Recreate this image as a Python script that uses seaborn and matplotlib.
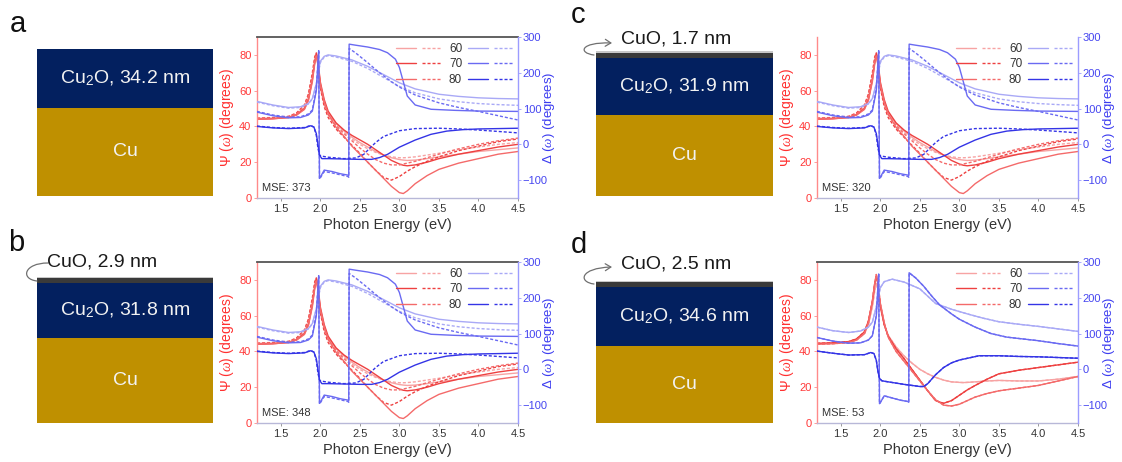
import numpy as np
import pandas as pd
import matplotlib
matplotlib.use("Agg")
import matplotlib.pyplot as plt
import seaborn as sns
from matplotlib.lines import Line2D
from matplotlib.legend_handler import HandlerTuple
from matplotlib.patches import Rectangle, FancyArrowPatch
from matplotlib.path import Path

sns.set_style("white")
plt.rcParams["font.family"] = ["Liberation Sans", "DejaVu Sans"]
plt.rcParams["mathtext.fontset"] = "custom"
plt.rcParams["mathtext.rm"] = "Liberation Sans"
plt.rcParams["mathtext.it"] = "Liberation Serif:italic"

# ---------------- data ----------------
ANGLES = [60, 70, 80]
PANELS = ["a", "b", "c", "d"]
MSE = [373, 348, 320, 53]
CU2O_LABELS = ["Cu$_2$O, 34.2 nm", "Cu$_2$O, 31.8 nm", "Cu$_2$O, 31.9 nm", "Cu$_2$O, 34.6 nm"]
CUO_LABELS = [None, "CuO, 2.9 nm", "CuO, 1.7 nm", "CuO, 2.5 nm"]
CU_LABEL = "Cu"

# Psi energy grid
E_PSI = [1.2, 1.4, 1.6, 1.7, 1.8, 1.85, 1.9, 1.93, 1.95, 1.97, 2.0, 2.05, 2.1, 2.2, 2.3,
         2.4, 2.5, 2.6, 2.7, 2.8, 2.9, 3.0, 3.05, 3.1, 3.2, 3.35, 3.5, 3.75, 4.0, 4.25, 4.5]

# sample 1 (panels a-c): experiment and model
PSI1_EXP_60 = [44.5, 44.7, 45.3, 46.8, 50.5, 56, 67, 76, 80, 75, 63, 53, 47.5, 41.5, 37.5,
               34, 31, 28.5, 26, 24, 22.5, 21.5, 21.2, 21, 21.2, 22, 23, 24.5, 26, 27, 28]
PSI1_MOD_60 = [44.8, 45, 45.8, 47.5, 52, 58, 69, 77, 79, 74, 62, 52.5, 47, 41, 37,
               33, 30, 27.5, 25.5, 24, 23, 22.5, 22.5, 22.6, 23, 24, 25, 27, 28.5, 30, 31]
PSI1_EXP_70 = [44, 44.3, 45, 46.5, 50, 55, 66, 76, 81, 77, 65, 55, 48.5, 42, 38,
               35, 32.5, 30, 27, 24, 21, 19, 18.3, 18, 18.5, 20, 22, 24.5, 26.5, 28.5, 30]
PSI1_MOD_70 = [44.5, 44.8, 45.5, 47.5, 52, 58, 70, 79, 81, 75, 62, 51, 45, 38.5, 34,
               29.5, 25, 20, 15.5, 11.5, 10, 12, 13.5, 15, 17.5, 20.5, 23, 26.5, 29, 31.5, 33]
PSI1_EXP_80 = [44, 44.3, 45, 46.3, 49.5, 54.5, 65, 75, 79.5, 76, 64, 54, 47, 39.5, 34.5,
               29, 24.5, 20, 15.5, 11, 6.5, 3, 2.5, 4, 8, 12.5, 16, 19.5, 22, 24.5, 26]
PSI1_MOD_80 = [44.3, 44.6, 45.5, 47, 51.5, 57, 68, 77, 80, 75, 63, 53, 46.5, 40.5, 36,
               32, 28, 24.5, 21.5, 19.5, 18.5, 18.5, 19, 19.5, 20.5, 22.5, 24.5, 27.5, 30, 32, 33.5]

E1_D60 = [1.2, 1.4, 1.6, 1.75, 1.85, 1.9, 1.95, 2.0, 2.05, 2.1, 2.2, 2.4, 2.6, 2.8, 3.0,
          3.2, 3.5, 3.75, 4.0, 4.25, 4.5]
DLT1_EXP_60 = [120, 110, 103, 105, 114, 128, 170, 232, 246, 250, 247, 236, 218, 195, 172,
               155, 140, 134, 130, 128, 127]
DLT1_MOD_60 = [118, 108, 101, 103, 113, 127, 168, 228, 244, 248, 244, 232, 212, 187, 162,
               144, 127, 119, 114, 111, 109]
E1_D70_EXP = [1.2, 1.4, 1.6, 1.75, 1.85, 1.9, 1.95, 1.97, 1.98, 1.99, 2.0, 2.05, 2.15, 2.25,
              2.35, 2.36, 2.365, 2.45, 2.6, 2.75, 2.85, 2.95, 3.0, 3.05, 3.1, 3.2, 3.4, 3.7, 4.0, 4.5]
DLT1_EXP_70 = [90, 80, 74, 75, 82, 93, 150, 225, 262, -95, -92, -72, -76, -82,
               -86, -88, 280, 277, 272, 265, 256, 238, 215, 175, 135, 110, 98, 95, 93, 92]
E1_D70_MOD = [1.2, 1.4, 1.6, 1.75, 1.85, 1.9, 1.95, 1.97, 1.98, 1.99, 2.0, 2.05, 2.15, 2.25,
              2.35, 2.36, 2.365, 2.45, 2.6, 2.75, 2.9, 3.0, 3.2, 3.5, 3.75, 4.0, 4.25, 4.5]
DLT1_MOD_70 = [92, 82, 76, 77, 85, 96, 155, 230, 258, -97, -94, -76, -80, -85,
               -90, -92, 268, 255, 228, 200, 175, 160, 138, 116, 103, 92, 80, 68]
E1_D80_EXP = [1.2, 1.4, 1.6, 1.8, 1.88, 1.92, 1.95, 1.97, 1.99, 2.02, 2.1, 2.3, 2.5, 2.65,
              2.75, 2.85, 3.0, 3.2, 3.4, 3.6, 3.8, 4.0, 4.25, 4.5]
DLT1_EXP_80 = [50, 46, 44, 46, 52, 48, 30, 0, -30, -40, -40, -41, -42, -42,
               -37, -28, -8, 12, 28, 37, 41, 43, 44, 45]
E1_D80_MOD = [1.2, 1.4, 1.6, 1.8, 1.88, 1.92, 1.95, 1.97, 1.99, 2.02, 2.1, 2.3, 2.45, 2.55,
              2.62, 2.7, 2.8, 3.0, 3.2, 3.5, 3.75, 4.0, 4.25, 4.5]
DLT1_MOD_80 = [51, 47, 45, 47, 53, 48, 25, -10, -30, -33, -36, -40, -38, -28,
               -12, 5, 22, 38, 44, 45, 43, 40, 36, 32]

# sample 2 (panel d): experiment (model overlaps)
PSI2_60 = [44.5, 44.6, 45.3, 46.8, 50, 55, 65, 74, 78, 75, 65, 55, 49, 42.5, 37.5,
           33.5, 30, 27.5, 25.5, 24, 23, 22.7, 22.6, 22.7, 23, 23.5, 23.8, 23.5, 23.5, 24.5, 26]
PSI2_70 = [44.5, 44.8, 45.5, 47, 51, 57, 68, 78, 82, 78, 66, 55, 48.5, 41.5, 36,
           30, 24, 18, 12.5, 11, 12.5, 15.5, 17, 18.5, 21, 24.5, 27.5, 29.5, 31, 32.5, 34]
PSI2_80 = [44, 44.3, 45, 46.3, 50, 56, 68, 78, 83, 79, 67, 56, 48, 40, 34.5,
           29, 23.5, 18, 13, 10, 9.5, 10.5, 11.5, 12.5, 14.5, 16.5, 18, 19.5, 21, 23.5, 26]
E2_D60 = [1.2, 1.4, 1.6, 1.75, 1.85, 1.9, 1.95, 2.0, 2.05, 2.15, 2.3, 2.5, 2.7, 2.9, 3.1,
          3.3, 3.5, 3.75, 4.0, 4.25, 4.5]
DLT2_60 = [118, 108, 103, 107, 118, 132, 175, 228, 245, 252, 244, 225, 184, 168, 155,
           143, 133, 126, 120, 113, 106]
E2_D70 = [1.2, 1.4, 1.6, 1.75, 1.85, 1.9, 1.95, 1.97, 1.98, 1.99, 2.0, 2.05, 2.15, 2.25,
          2.35, 2.36, 2.365, 2.45, 2.55, 2.65, 2.75, 2.9, 3.0, 3.2, 3.4, 3.6, 3.8, 4.0, 4.25, 4.5]
DLT2_70 = [89, 79, 73, 74, 82, 94, 150, 230, 266, -96, -93, -74, -80, -86,
           -90, -92, 270, 255, 232, 205, 180, 155, 140, 118, 100, 90, 85, 80, 72, 65]
E2_D80 = [1.2, 1.4, 1.6, 1.8, 1.88, 1.92, 1.95, 1.97, 1.99, 2.02, 2.1, 2.3, 2.5, 2.55,
          2.6, 2.7, 2.8, 2.9, 3.0, 3.25, 3.5, 3.75, 4.0, 4.5]
DLT2_80 = [51, 45, 40, 41, 47, 44, 25, -5, -25, -32, -35, -42, -48, -48,
           -40, -15, 5, 18, 26, 38, 38, 36, 35, 31]

PSI_TICKS = [0, 20, 40, 60, 80]
DLT_TICKS = [-100, 0, 100, 200, 300]
E_TICKS = [1.5, 2.0, 2.5, 3.0, 3.5, 4.0, 4.5]

# ---------------- styles ----------------
RED = {60: "#F7A3A3", 70: "#EE4040", 80: "#F46A6A"}
BLUE = {60: "#A9A9F6", 70: "#6A6AF2", 80: "#3434E6"}
DOT = (0, (2.2, 1.4))
NAVY = "#03205F"
GOLD = "#BF9000"

W, H = 1122, 462
fig = plt.figure(figsize=(W / 100, H / 100), dpi=100)


def fx(x):
    return x / W


def fy(y):
    return 1 - y / H


def rect_px(x0, y0, x1, y1):
    return [fx(x0), fy(y1), (x1 - x0) / W, (y1 - y0) / H]


sample1 = {
    "psi": {60: (PSI1_EXP_60, PSI1_MOD_60), 70: (PSI1_EXP_70, PSI1_MOD_70), 80: (PSI1_EXP_80, PSI1_MOD_80)},
    "dlt": {60: ((E1_D60, DLT1_EXP_60), (E1_D60, DLT1_MOD_60)),
            70: ((E1_D70_EXP, DLT1_EXP_70), (E1_D70_MOD, DLT1_MOD_70)),
            80: ((E1_D80_EXP, DLT1_EXP_80), (E1_D80_MOD, DLT1_MOD_80))},
}
sample2 = {
    "psi": {60: (PSI2_60, PSI2_60), 70: (PSI2_70, PSI2_70), 80: (PSI2_80, PSI2_80)},
    "dlt": {60: ((E2_D60, DLT2_60), (E2_D60, DLT2_60)),
            70: ((E2_D70, DLT2_70), (E2_D70, DLT2_70)),
            80: ((E2_D80, DLT2_80), (E2_D80, DLT2_80))},
}


def draw_plot(box, sample, mse, top_spine):
    ax = fig.add_axes(rect_px(*box))
    ax2 = ax.twinx()
    for ang in ANGLES:
        exp_y, mod_y = sample["psi"][ang]
        sns.lineplot(x=E_PSI, y=exp_y, ax=ax, color=RED[ang], lw=1.0, sort=False, estimator=None)
        sns.lineplot(x=E_PSI, y=mod_y, ax=ax, color=RED[ang], lw=1.0, linestyle=DOT, sort=False, estimator=None)
    for ang in ANGLES:
        (xe, ye), (xm, ym) = sample["dlt"][ang]
        sns.lineplot(x=xe, y=ye, ax=ax2, color=BLUE[ang], lw=1.0, sort=False, estimator=None)
        sns.lineplot(x=xm, y=ym, ax=ax2, color=BLUE[ang], lw=1.0, linestyle=DOT, sort=False, estimator=None)
    ax.set_xlim(1.2, 4.5)
    ax.set_ylim(0, 90)
    ax2.set_ylim(-150, 300)
    ax.set_xticks(E_TICKS)
    ax.set_xticklabels([f"{v:.1f}" for v in E_TICKS])
    ax.set_yticks(PSI_TICKS)
    ax2.set_yticks(DLT_TICKS)
    for s in ["top", "left", "bottom"]:
        ax2.spines[s].set_visible(False)
    ax.spines["right"].set_visible(False)
    ax.spines["left"].set_color("#FF8A8A")
    ax.spines["left"].set_linewidth(1.0)
    ax.spines["bottom"].set_color("#B8B8D8")
    ax.spines["bottom"].set_linewidth(1.0)
    ax2.spines["right"].set_color("#9C9CFF")
    ax2.spines["right"].set_linewidth(1.0)
    if top_spine:
        ax.spines["top"].set_color("#555555")
        ax.spines["top"].set_linewidth(1.3)
    else:
        ax.spines["top"].set_visible(False)
    ax.tick_params(axis="y", colors="#FF8A8A", labelcolor="#FF3838", labelsize=8,
                   length=2, width=0.6, pad=2, left=True)
    ax.tick_params(axis="x", colors="#888888", labelcolor="#333333", labelsize=8,
                   length=2, width=0.6, pad=2, bottom=True)
    ax2.tick_params(axis="y", colors="#9C9CFF", labelcolor="#4545F0", labelsize=8,
                    length=2, width=0.6, pad=1.5, right=True)
    ax.set_ylabel("Ψ ($\\it{\\omega}$) (degrees)", color="#FF3030", fontsize=10, labelpad=2)
    ax2.set_ylabel("Δ ($\\it{\\omega}$) (degrees)", color="#3C3CF0", fontsize=9.5)
    ax2.yaxis.set_label_coords(1.09, 0.5)
    ax.set_xlabel("Photon Energy (eV)", color="#333333", fontsize=10.5, labelpad=3)
    ax.text(0.018, 0.065, f"MSE: {mse}", transform=ax.transAxes, fontsize=8,
            color="#333333", va="center", ha="left")
    h_red = [(Line2D([], [], color=RED[a], lw=1.0), Line2D([], [], color=RED[a], lw=1.0, ls=DOT))
             for a in ANGLES]
    h_blue = [(Line2D([], [], color=BLUE[a], lw=1.0), Line2D([], [], color=BLUE[a], lw=1.0, ls=DOT))
              for a in ANGLES]
    leg = ax2.legend(h_red + h_blue, [str(a) for a in ANGLES] + [""] * 3, ncol=2,
                     handler_map={tuple: HandlerTuple(ndivide=None, pad=0.5)},
                     handlelength=3.9, handletextpad=0.6, columnspacing=0.5,
                     labelspacing=0.3, fontsize=8.5, frameon=False, loc="upper right",
                     bbox_to_anchor=(1.035, 1.0), borderaxespad=0.3, borderpad=0.2)
    for t in leg.get_texts():
        t.set_color("#333333")
    return ax, ax2


def add_rect(x0, y0, x1, y1, color):
    fig.add_artist(Rectangle((fx(x0), fy(y1)), (x1 - x0) / W, (y1 - y0) / H,
                             transform=fig.transFigure, color=color, lw=0))


def draw_stack(x0, x1, cu, cu2o, cuo, cu2o_label, cuo_label, cuo_text, arrow, head):
    add_rect(x0, cu[0], x1, cu[1], GOLD)
    add_rect(x0, cu2o[0], x1, cu2o[1], NAVY)
    xc = (x0 + x1) / 2
    fig.text(fx(xc), fy((cu[0] + cu[1]) / 2), CU_LABEL, color="#F2F2F2", fontsize=14,
             ha="center", va="center")
    fig.text(fx(xc), fy((cu2o[0] + cu2o[1]) / 2), cu2o_label, color="#F2F2F2", fontsize=14,
             ha="center", va="center")
    if cuo is not None:
        add_rect(x0, cuo[0] - 1.5, x1, cuo[0], "#C8C8C8")
        add_rect(x0, cuo[0], x1, cuo[1], "#3A3A3A")
        fig.text(fx(cuo_text[0]), fy(cuo_text[1]), cuo_label, color="#1A1A1A", fontsize=14,
                 ha="left", va="center")
        verts = [(fx(px), fy(py)) for px, py in arrow]
        path = Path(verts, [Path.MOVETO, Path.CURVE4, Path.CURVE4, Path.CURVE4])
        style = "->,head_length=0.4,head_width=0.25" if head else "-"
        fig.add_artist(FancyArrowPatch(path=path, arrowstyle=style, mutation_scale=10,
                                       color="#707070", lw=0.9, transform=fig.transFigure))


# ---------------- layout ----------------
PLOT_BOXES = [(257, 37, 518, 198), (257, 262, 518, 423), (817, 37, 1078, 198), (817, 262, 1078, 423)]
SAMPLES = [sample1, sample1, sample1, sample2]
TOP_SPINES = [True, True, False, True]
for i in range(4):
    draw_plot(PLOT_BOXES[i], SAMPLES[i], MSE[i], TOP_SPINES[i])

draw_stack(37, 213, (108, 196), (49, 108), None, CU2O_LABELS[0], None, None, None, False)
draw_stack(37, 213, (338, 423), (283, 338), (278, 283), CU2O_LABELS[1], CUO_LABELS[1], (47, 262),
           [(37, 281), (20, 279), (24, 263), (48, 263)], False)
draw_stack(596, 773, (115, 196), (58, 115), (53, 58), CU2O_LABELS[2], CUO_LABELS[2], (621, 39),
           [(594, 55), (578, 53), (580, 42), (612, 43)], True)
draw_stack(596, 773, (346, 423), (287, 346), (282, 287), CU2O_LABELS[3], CUO_LABELS[3], (621, 264),
           [(594, 284), (578, 282), (580, 268), (612, 267)], True)

LETTER_POS = [(18, 24), (16, 243), (578, 15), (579, 245)]
for lab, (x, y) in zip(PANELS, LETTER_POS):
    fig.text(fx(x), fy(y), lab, fontsize=21, color="#111111", ha="center", va="center")

fig.savefig("out.png", dpi=100)
